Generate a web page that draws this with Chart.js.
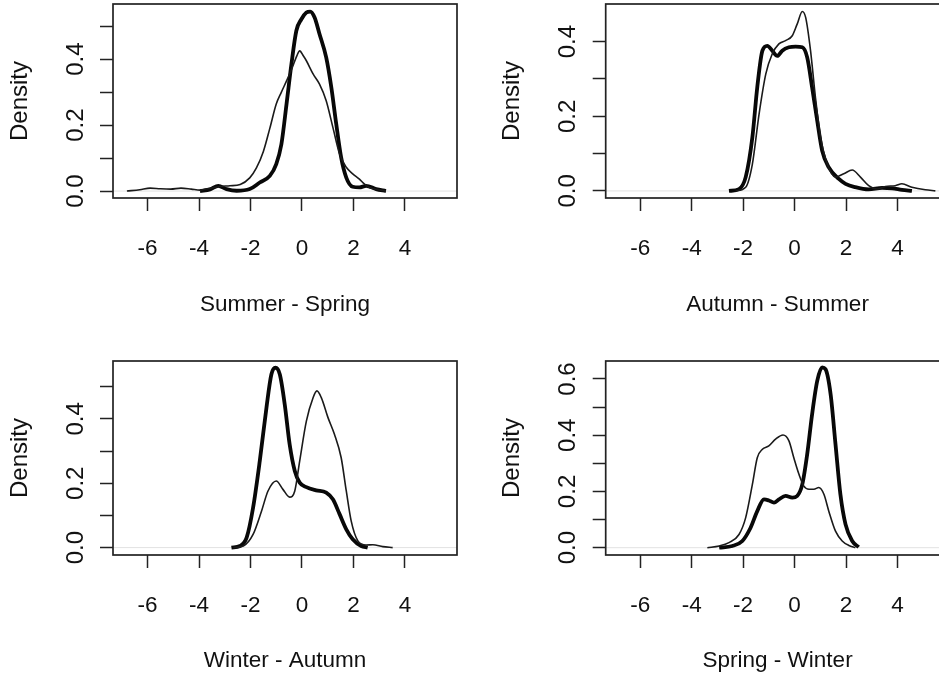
<!DOCTYPE html>
<html>
<head>
<meta charset="utf-8">
<script src="https://cdn.jsdelivr.net/npm/chart.js@4.4.1/dist/chart.umd.min.js"></script>
<style>
  html, body { margin: 0; padding: 0; background: #fff; overflow: hidden; width: 939px; height: 678px; }
  .panel { position: absolute; }
</style>
</head>
<body>
<div class="panel" style="left:0px;top:0px"><canvas id="c1" width="470" height="340"></canvas></div>
<div class="panel" style="left:470px;top:0px"><canvas id="c2" width="490" height="340"></canvas></div>
<div class="panel" style="left:0px;top:340px"><canvas id="c3" width="470" height="338"></canvas></div>
<div class="panel" style="left:470px;top:340px"><canvas id="c4" width="490" height="338"></canvas></div>
<script>
// x axis ticks (same for all four panels)
const xTicks = [-6, -4, -2, 0, 2, 4];

// Summer - Spring
const p1ThickX = [-3.96, -3.57, -3.25, -2.93, -2.54, -2.03, -1.64, -1.25, -1.0, -0.8, -0.6, -0.41, -0.22, -0.03, 0.17, 0.32, 0.49, 0.68, 0.94, 1.14, 1.33, 1.52, 1.72, 1.97, 2.23, 2.49, 2.88, 3.26];
const p1ThickY = [0.0, 0.005, 0.016, 0.006, 0.001, 0.006, 0.026, 0.046, 0.082, 0.142, 0.264, 0.385, 0.486, 0.52, 0.541, 0.544, 0.526, 0.476, 0.405, 0.314, 0.203, 0.102, 0.041, 0.013, 0.011, 0.016, 0.006, 0.0];
const p1ThinX = [-6.8, -6.3, -5.9, -5.5, -5.1, -4.7, -4.3, -3.96, -3.6, -3.2, -2.8, -2.4, -2.03, -1.77, -1.5, -1.25, -1.0, -0.8, -0.6, -0.4, -0.2, -0.09, 0.05, 0.17, 0.43, 0.68, 0.94, 1.2, 1.46, 1.72, 1.97, 2.23, 2.43, 2.62, 3.0, 3.26];
const p1ThinY = [0.0, 0.004, 0.009, 0.007, 0.006, 0.009, 0.006, 0.003, 0.008, 0.014, 0.016, 0.02, 0.04, 0.07, 0.12, 0.19, 0.264, 0.30, 0.334, 0.37, 0.41, 0.425, 0.41, 0.395, 0.355, 0.324, 0.274, 0.193, 0.112, 0.072, 0.052, 0.036, 0.021, 0.011, 0.004, 0.0];

// Autumn - Summer
const p2ThickX = [-2.55, -2.16, -1.9, -1.64, -1.45, -1.25, -1.06, -0.87, -0.67, -0.48, -0.22, 0.04, 0.30, 0.49, 0.68, 0.88, 1.07, 1.33, 1.72, 1.98, 2.36, 2.88, 3.4, 3.79, 4.17, 4.56];
const p2ThickY = [0.0, 0.005, 0.037, 0.144, 0.278, 0.376, 0.389, 0.376, 0.362, 0.376, 0.385, 0.387, 0.385, 0.358, 0.278, 0.188, 0.108, 0.063, 0.032, 0.019, 0.01, 0.004, 0.008, 0.007, 0.003, 0.0];
const p2ThinX = [-2.29, -1.9, -1.64, -1.38, -1.12, -0.87, -0.61, -0.35, -0.09, 0.10, 0.30, 0.43, 0.62, 0.81, 1.01, 1.27, 1.59, 1.91, 2.24, 2.56, 2.88, 3.2, 3.53, 3.91, 4.17, 4.56, 5.08, 5.47];
const p2ThinY = [0.0, 0.01, 0.072, 0.206, 0.313, 0.367, 0.394, 0.403, 0.416, 0.447, 0.481, 0.465, 0.376, 0.251, 0.144, 0.072, 0.037, 0.046, 0.056, 0.037, 0.014, 0.005, 0.012, 0.014, 0.019, 0.01, 0.003, 0.0];

// Winter - Autumn
const p3ThickX = [-2.74, -2.41, -2.15, -1.9, -1.64, -1.38, -1.19, -1.03, -0.86, -0.67, -0.48, -0.28, -0.09, 0.17, 0.55, 0.94, 1.2, 1.46, 1.72, 1.97, 2.3, 2.55];
const p3ThickY = [0.0, 0.005, 0.031, 0.124, 0.269, 0.435, 0.538, 0.559, 0.538, 0.445, 0.321, 0.238, 0.202, 0.188, 0.178, 0.171, 0.150, 0.104, 0.057, 0.026, 0.005, 0.0];
const p3ThinX = [-2.67, -2.28, -1.9, -1.57, -1.32, -1.0, -0.74, -0.48, -0.28, -0.09, 0.17, 0.43, 0.58, 0.75, 1.01, 1.26, 1.52, 1.72, 1.91, 2.17, 2.49, 2.75, 3.14, 3.52];
const p3ThinY = [0.0, 0.005, 0.041, 0.114, 0.176, 0.207, 0.181, 0.157, 0.176, 0.269, 0.393, 0.466, 0.487, 0.466, 0.404, 0.352, 0.28, 0.176, 0.083, 0.021, 0.008, 0.009, 0.003, 0.0];

// Spring - Winter
const p4ThickX = [-2.93, -2.42, -2.03, -1.71, -1.45, -1.19, -1.0, -0.8, -0.61, -0.35, -0.09, 0.10, 0.30, 0.49, 0.68, 0.88, 1.07, 1.2, 1.40, 1.59, 1.78, 1.98, 2.24, 2.49];
const p4ThickY = [0.0, 0.006, 0.024, 0.071, 0.130, 0.172, 0.168, 0.160, 0.172, 0.184, 0.178, 0.184, 0.225, 0.332, 0.474, 0.593, 0.641, 0.635, 0.546, 0.368, 0.19, 0.083, 0.024, 0.002];
const p4ThinX = [-3.39, -2.93, -2.55, -2.16, -1.9, -1.64, -1.45, -1.25, -1.0, -0.74, -0.45, -0.22, -0.03, 0.17, 0.36, 0.56, 0.75, 0.94, 1.14, 1.33, 1.59, 1.85, 2.11, 2.36];
const p4ThinY = [0.0, 0.006, 0.018, 0.047, 0.107, 0.225, 0.320, 0.350, 0.362, 0.386, 0.401, 0.380, 0.320, 0.261, 0.219, 0.208, 0.208, 0.214, 0.19, 0.130, 0.059, 0.024, 0.008, 0.0];

// y ticks and labelled ticks per panel
const p1YTicks = [0, 0.1, 0.2, 0.3, 0.4, 0.5];
const p2YTicks = [0, 0.1, 0.2, 0.3, 0.4];
const p3YTicks = [0, 0.1, 0.2, 0.3, 0.4, 0.5];
const p4YTicks = [0, 0.1, 0.2, 0.3, 0.4, 0.5, 0.6];
const p1YLabels = [0, 0.2, 0.4];
const p2YLabels = [0, 0.2, 0.4];
const p3YLabels = [0, 0.2, 0.4];
const p4YLabels = [0, 0.2, 0.4, 0.6];

const xTitles = ['Summer - Spring', 'Autumn - Summer', 'Winter - Autumn', 'Spring - Winter'];

const FONT = "'Liberation Sans', Arial, Helvetica, sans-serif";
const INK = '#111';

const toPoints = (xs, ys) => xs.map((x, i) => ({ x: x, y: ys[i] }));

// box, zero line and rotated y labels like base R
const rBoxPlugin = {
    id: 'rbox',
    beforeDatasetsDraw(chart) {
        const { ctx, chartArea: a, scales: { y } } = chart;
        const y0 = y.getPixelForValue(0);
        ctx.save();
        ctx.strokeStyle = '#e2e2e2';
        ctx.lineWidth = 1;
        ctx.beginPath();
        ctx.moveTo(a.left, y0);
        ctx.lineTo(a.right, y0);
        ctx.stroke();
        ctx.restore();
    },
    afterDraw(chart, args, opts) {
        const { ctx, chartArea: a, scales: { y } } = chart;
        ctx.save();
        ctx.strokeStyle = '#222';
        ctx.lineWidth = 1.7;
        ctx.strokeRect(a.left, a.top, a.right - a.left, a.bottom - a.top);
        ctx.fillStyle = INK;
        ctx.font = '24px ' + FONT;
        ctx.textAlign = 'center';
        ctx.textBaseline = 'middle';
        opts.labels.forEach(v => {
            ctx.save();
            ctx.translate(a.left - 37, y.getPixelForValue(v));
            ctx.rotate(-Math.PI / 2);
            ctx.fillText(v.toFixed(1), 0, 0);
            ctx.restore();
        });
        ctx.restore();
    }
};

const makePanel = (id, p) => {
    const ctx = document.getElementById(id).getContext('2d');
    return new Chart(ctx, {
        type: 'line',
        data: {
            datasets: [
                {
                    data: toPoints(p.thinX, p.thinY),
                    borderColor: '#1a1a1a',
                    borderWidth: 1.6,
                    pointRadius: 0,
                    cubicInterpolationMode: 'monotone',
                    fill: false
                },
                {
                    data: toPoints(p.thickX, p.thickY),
                    borderColor: '#080808',
                    borderWidth: 3.8,
                    pointRadius: 0,
                    cubicInterpolationMode: 'monotone',
                    fill: false
                }
            ]
        },
        options: {
            responsive: false,
            animation: false,
            layout: { padding: { top: p.padTop, right: p.padRight, left: 0, bottom: 0 } },
            plugins: {
                legend: { display: false },
                tooltip: { enabled: false },
                rbox: { labels: p.yLabels }
            },
            scales: {
                x: {
                    type: 'linear',
                    min: -7.34,
                    max: 6.02,
                    afterBuildTicks: s => { s.ticks = xTicks.map(v => ({ value: v })); },
                    afterFit: s => { s.height = p.xAxisH; },
                    border: { display: false },
                    grid: { drawOnChartArea: false, drawTicks: true, tickLength: 13, tickColor: '#222', tickWidth: 1.5 },
                    ticks: { color: INK, padding: 24, font: { family: FONT, size: 22.5 }, maxRotation: 0, autoSkip: false },
                    title: { display: true, text: p.xTitle, color: INK, font: { family: FONT, size: 22.5 }, padding: { top: 0, bottom: p.xTitlePad } }
                },
                y: {
                    type: 'linear',
                    min: p.yMin,
                    max: p.yMax,
                    afterBuildTicks: s => { s.ticks = p.yTicks.map(v => ({ value: v })); },
                    afterFit: s => { s.width = p.yAxisW; },
                    border: { display: false },
                    grid: { drawOnChartArea: false, drawTicks: true, tickLength: 13, tickColor: '#222', tickWidth: 1.5 },
                    ticks: { display: false },
                    title: { display: true, text: 'Density', color: INK, font: { family: FONT, size: 24 }, padding: { top: p.densityPad, bottom: 0 } }
                }
            }
        },
        plugins: [rBoxPlugin]
    });
};

makePanel('c1', { thickX: p1ThickX, thickY: p1ThickY, thinX: p1ThinX, thinY: p1ThinY, yTicks: p1YTicks, yLabels: p1YLabels,
    yMin: -0.021, yMax: 0.567, xTitle: xTitles[0], padTop: 4, padRight: 13, yAxisW: 113, xAxisH: 142, xTitlePad: 21.8, densityPad: 6.3 });
makePanel('c2', { thickX: p2ThickX, thickY: p2ThickY, thinX: p2ThinX, thinY: p2ThinY, yTicks: p2YTicks, yLabels: p2YLabels,
    yMin: -0.019, yMax: 0.501, xTitle: xTitles[1], padTop: 4, padRight: 10.5, yAxisW: 135.7, xAxisH: 142, xTitlePad: 21.8, densityPad: 27.5 });
makePanel('c3', { thickX: p3ThickX, thickY: p3ThickY, thinX: p3ThinX, thinY: p3ThinY, yTicks: p3YTicks, yLabels: p3YLabels,
    yMin: -0.023, yMax: 0.58, xTitle: xTitles[2], padTop: 21, padRight: 13, yAxisW: 113, xAxisH: 123, xTitlePad: 3.4, densityPad: 6.3 });
makePanel('c4', { thickX: p4ThickX, thickY: p4ThickY, thinX: p4ThinX, thinY: p4ThinY, yTicks: p4YTicks, yLabels: p4YLabels,
    yMin: -0.026, yMax: 0.664, xTitle: xTitles[3], padTop: 21, padRight: 10.5, yAxisW: 135.7, xAxisH: 123, xTitlePad: 3.4, densityPad: 27.5 });
</script>
</body>
</html>
